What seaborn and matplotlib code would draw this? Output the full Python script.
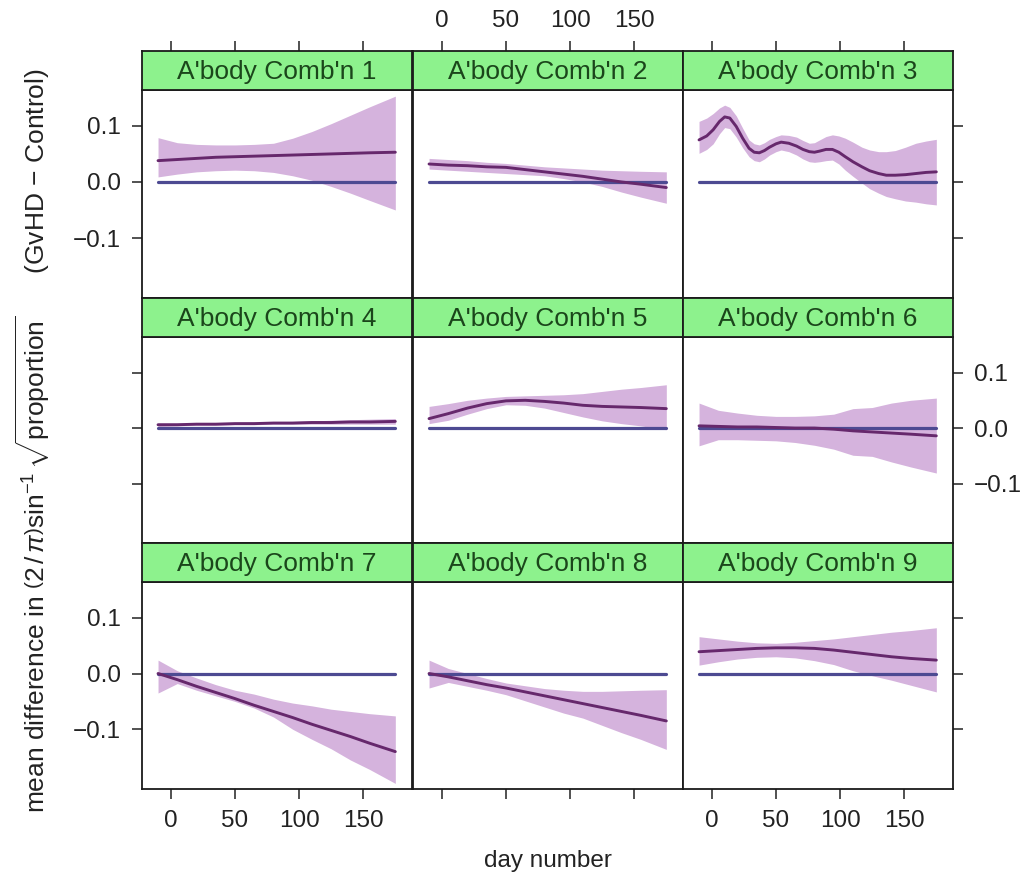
import numpy as np
import pandas as pd
import matplotlib
matplotlib.use("Agg")
import matplotlib.pyplot as plt
import seaborn as sns

# ---------------- data ----------------
panel_titles = ["A'body Comb'n 1", "A'body Comb'n 2", "A'body Comb'n 3",
                "A'body Comb'n 4", "A'body Comb'n 5", "A'body Comb'n 6",
                "A'body Comb'n 7", "A'body Comb'n 8", "A'body Comb'n 9"]

days = [-10, 5, 20, 35, 50, 65, 80, 95, 110, 125, 140, 155, 175]
days3 = [-10, -4, 1, 6, 10, 14, 19, 24, 29, 33, 37, 41, 45, 50, 54, 60, 66, 71, 76, 80,
         84, 89, 94, 99, 104, 110, 117, 123, 130, 136, 143, 151, 159, 167, 175]
ref_days = [-10, 175]
ref_vals = [0.0, 0.0]

fit1 = [0.038, 0.040, 0.042, 0.044, 0.045, 0.046, 0.047, 0.048, 0.049, 0.050, 0.051, 0.052, 0.053]
up1 = [0.079, 0.070, 0.067, 0.066, 0.066, 0.067, 0.069, 0.078, 0.090, 0.104, 0.119, 0.134, 0.153]
lo1 = [0.009, 0.014, 0.018, 0.020, 0.021, 0.020, 0.017, 0.011, 0.003, -0.008, -0.020, -0.033, -0.050]

fit2 = [0.032, 0.030, 0.029, 0.027, 0.026, 0.022, 0.018, 0.014, 0.010, 0.005, 0.000, -0.004, -0.010]
up2 = [0.042, 0.040, 0.038, 0.035, 0.033, 0.030, 0.027, 0.025, 0.023, 0.021, 0.020, 0.019, 0.018]
lo2 = [0.023, 0.021, 0.019, 0.017, 0.015, 0.013, 0.011, 0.006, 0.000, -0.008, -0.018, -0.027, -0.038]

fit3 = [0.075, 0.082, 0.093, 0.108, 0.116, 0.114, 0.099, 0.078, 0.060, 0.053, 0.052, 0.056, 0.062,
        0.068, 0.071, 0.069, 0.064, 0.058, 0.054, 0.053, 0.055, 0.058, 0.058, 0.053, 0.045,
        0.036, 0.027, 0.020, 0.015, 0.012, 0.012, 0.013, 0.015, 0.017, 0.018]
up3 = [0.108, 0.114, 0.122, 0.132, 0.137, 0.133, 0.118, 0.096, 0.075, 0.068, 0.066, 0.070, 0.076,
       0.081, 0.084, 0.083, 0.080, 0.074, 0.069, 0.070, 0.075, 0.081, 0.084, 0.082, 0.078,
       0.071, 0.062, 0.057, 0.054, 0.054, 0.056, 0.062, 0.069, 0.073, 0.076]
lo3 = [0.051, 0.058, 0.068, 0.086, 0.097, 0.095, 0.080, 0.061, 0.045, 0.038, 0.036, 0.041, 0.048,
       0.054, 0.057, 0.054, 0.048, 0.041, 0.036, 0.035, 0.036, 0.038, 0.039, 0.032, 0.021,
       0.010, -0.002, -0.012, -0.020, -0.026, -0.030, -0.034, -0.036, -0.039, -0.041]

fit4 = [0.006, 0.006, 0.007, 0.007, 0.008, 0.008, 0.009, 0.009, 0.010, 0.010, 0.011, 0.011, 0.012]
up4 = [0.009, 0.009, 0.009, 0.010, 0.010, 0.011, 0.011, 0.012, 0.013, 0.014, 0.015, 0.016, 0.017]
lo4 = [0.003, 0.004, 0.005, 0.005, 0.006, 0.006, 0.007, 0.007, 0.007, 0.007, 0.007, 0.007, 0.007]

fit5 = [0.017, 0.026, 0.036, 0.044, 0.049, 0.050, 0.048, 0.045, 0.041, 0.039, 0.038, 0.037, 0.035]
up5 = [0.039, 0.044, 0.050, 0.054, 0.057, 0.058, 0.059, 0.060, 0.062, 0.066, 0.070, 0.073, 0.078]
lo5 = [0.008, 0.014, 0.025, 0.035, 0.042, 0.041, 0.036, 0.028, 0.020, 0.013, 0.008, 0.004, -0.003]

fit6 = [0.004, 0.003, 0.002, 0.002, 0.001, 0.000, 0.000, -0.002, -0.005, -0.007, -0.009, -0.011, -0.014]
up6 = [0.045, 0.032, 0.027, 0.023, 0.021, 0.021, 0.022, 0.025, 0.035, 0.037, 0.045, 0.050, 0.054]
lo6 = [-0.032, -0.021, -0.021, -0.022, -0.023, -0.026, -0.031, -0.038, -0.049, -0.051, -0.061, -0.070, -0.081]

fit7 = [0.000, -0.011, -0.023, -0.034, -0.045, -0.057, -0.068, -0.079, -0.091, -0.102, -0.113, -0.125, -0.140]
up7 = [0.024, 0.005, -0.008, -0.020, -0.030, -0.037, -0.046, -0.053, -0.058, -0.064, -0.068, -0.072, -0.076]
lo7 = [-0.035, -0.018, -0.030, -0.040, -0.050, -0.062, -0.078, -0.100, -0.118, -0.135, -0.155, -0.172, -0.197]

fit8 = [0.000, -0.006, -0.013, -0.020, -0.026, -0.033, -0.040, -0.047, -0.054, -0.061, -0.068, -0.075, -0.085]
up8 = [0.024, 0.009, 0.000, -0.009, -0.017, -0.022, -0.027, -0.030, -0.032, -0.032, -0.031, -0.030, -0.029]
lo8 = [-0.026, -0.016, -0.023, -0.030, -0.038, -0.049, -0.060, -0.071, -0.080, -0.093, -0.106, -0.118, -0.136]

fit9 = [0.039, 0.041, 0.043, 0.045, 0.046, 0.046, 0.045, 0.042, 0.038, 0.034, 0.030, 0.027, 0.024]
up9 = [0.066, 0.062, 0.058, 0.055, 0.054, 0.056, 0.059, 0.062, 0.066, 0.070, 0.074, 0.077, 0.082]
lo9 = [0.015, 0.021, 0.026, 0.029, 0.030, 0.028, 0.023, 0.016, 0.005, -0.004, -0.012, -0.021, -0.033]

x_ticks = [0, 50, 100, 150]
y_ticks = [-0.1, 0.0, 0.1]
y_ticklabels = ["\u22120.1", "0.0", "0.1"]

panels = [
    (days, fit1, up1, lo1), (days, fit2, up2, lo2), (days3, fit3, up3, lo3),
    (days, fit4, up4, lo4), (days, fit5, up5, lo5), (days, fit6, up6, lo6),
    (days, fit7, up7, lo7), (days, fit8, up8, lo8), (days, fit9, up9, lo9),
]

# ---------------- style ----------------
sns.set_theme(style="white")
plt.rcParams["font.family"] = ["Liberation Sans", "DejaVu Sans"]
plt.rcParams["mathtext.fontset"] = "custom"
plt.rcParams["mathtext.rm"] = "Liberation Sans"
plt.rcParams["mathtext.it"] = "Liberation Sans:italic"
plt.rcParams["mathtext.bf"] = "Liberation Sans:bold"

W, H = 1023, 877
fig = plt.figure(figsize=(W / 100, H / 100), dpi=100)

col_left = [142, 413, 683]
col_w = 270
row_top = [90, 337, 582]
row_h = [208, 206, 207]
strip_top = [51, 298, 543]
strip_h = 39

XLIM = (-22.5, 188)
YLIM = (-0.207, 0.164)

band_col = "#D5B3DD"
fit_col = "#66286C"
ref_col = "#4D4A92"
strip_col = "#8DF28D"
strip_txt = "#1B461B"
edge_col = "#1a1a1a"
FS = 17.5
FS_STRIP = 19
FS_LAB = 19


def fax(l, t, w, h):
    return fig.add_axes([l / W, 1 - (t + h) / H, w / W, h / H])


for i, (dx, fit, up, lo) in enumerate(panels):
    r, c = divmod(i, 3)
    ax = fax(col_left[c], row_top[r], col_w, row_h[r])
    ax.fill_between(dx, lo, up, color=band_col, linewidth=0, zorder=1)
    df = pd.DataFrame({"day": dx, "fit": fit})
    rf = pd.DataFrame({"day": ref_days, "val": ref_vals})
    sns.lineplot(data=rf, x="day", y="val", ax=ax, color=ref_col, linewidth=2.3, zorder=2)
    sns.lineplot(data=df, x="day", y="fit", ax=ax, color=fit_col, linewidth=2.1, zorder=3)
    ax.set_xlim(XLIM)
    ax.set_ylim(YLIM)
    ax.set_xlabel("")
    ax.set_ylabel("")
    for s in ax.spines.values():
        s.set_color(edge_col)
        s.set_linewidth(1.3)
    ax.set_xticks(x_ticks)
    ax.set_yticks(y_ticks)
    ax.set_yticklabels(y_ticklabels)
    ax.tick_params(direction="out", length=7, width=1.2, color="#333333",
                   labelsize=FS, labelcolor="#222222", pad=8)
    if r == 2:
        ax.tick_params(axis="x", bottom=True, labelbottom=(c != 1), top=False, labeltop=False)
    else:
        ax.tick_params(axis="x", bottom=False, labelbottom=False, top=False, labeltop=False)
    left_on = (c == 0)
    right_on = (c == 2)
    ax.tick_params(axis="y", left=left_on, labelleft=(left_on and r != 1),
                   right=right_on, labelright=(right_on and r == 1))

    # strip
    sax = fax(col_left[c], strip_top[r], col_w, strip_h)
    sax.set_facecolor(strip_col)
    sax.set_xlim(XLIM)
    sax.set_ylim(0, 1)
    for s in sax.spines.values():
        s.set_color(edge_col)
        s.set_linewidth(1.3)
    sax.set_yticks([])
    sax.text(0.5, 0.46, panel_titles[i], transform=sax.transAxes, ha="center",
             va="center", fontsize=FS_STRIP, color=strip_txt)
    if r == 0:
        sax.set_xticks(x_ticks)
        sax.tick_params(axis="x", direction="out", top=True, bottom=False,
                        labelbottom=False, labeltop=(c == 1), length=7, width=1.2,
                        color="#333333", labelsize=FS, labelcolor="#222222", pad=7)
    else:
        sax.set_xticks([])

fig.text(33 / W, 1 - 441 / H,
         r"mean difference in $\left(2\,/\,\pi\right)\sin^{-1}\sqrt{\mathrm{proportion}}$"
         "      (GvHD \u2212 Control)",
         rotation=90, ha="center", va="center", fontsize=FS_LAB, color="#222222")
fig.text(548 / W, 1 - 861 / H, "day number", ha="center", va="center",
         fontsize=FS, color="#222222")

fig.savefig("out.png", dpi=100, facecolor="white")
